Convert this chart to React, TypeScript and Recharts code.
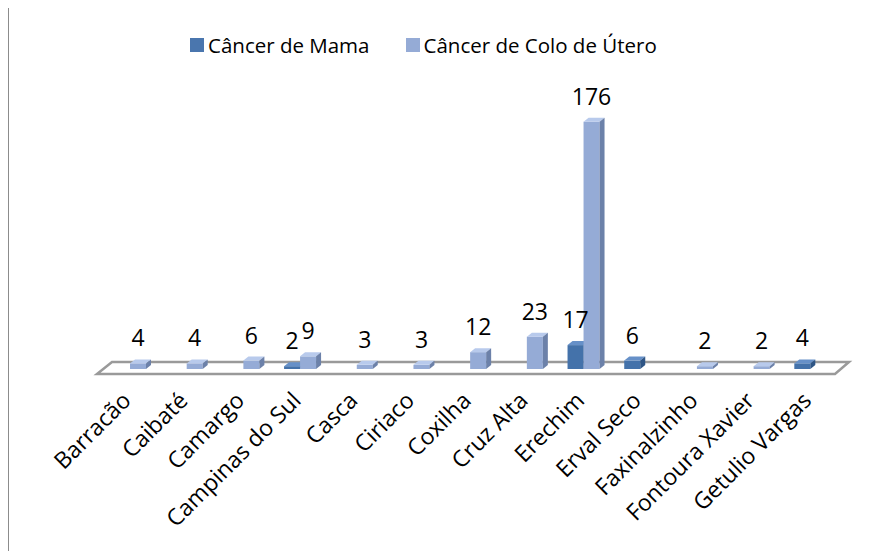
import React from "react";
import { BarChart, Bar, XAxis, YAxis, Legend, LabelList, ReferenceArea } from "recharts";

const cities = [
  "Barracão",
  "Caibaté",
  "Camargo",
  "Campinas do Sul",
  "Casca",
  "Ciriaco",
  "Coxilha",
  "Cruz Alta",
  "Erechim",
  "Erval Seco",
  "Faxinalzinho",
  "Fontoura Xavier",
  "Getulio Vargas",
];
const mama = [null, null, null, 2, null, null, null, null, 17, 6, null, null, 4];
const colo = [4, 4, 6, 9, 3, 3, 12, 23, 176, null, 2, 2, null];

const data = cities.map((city, i) => ({ city, mama: mama[i], colo: colo[i] }));

const FONT = "'Open Sans', Lato, sans-serif";

const palettes = {
  mama: { front: "#4472AA", top: "#6690C8", side: "#2E5585" },
  colo: { front: "#95ABD6", top: "#B8CAEC", side: "#6C81A9" },
};

function Bar3D(props: any) {
  const { x, y, width, height, palette } = props;
  if (x == null || y == null || !width || height == null || height < 0) return null;
  const dx = 5;
  const dy = 4;
  const h = Math.max(height, 1);
  const top = y + height - h;
  return (
    <g>
      <rect x={x} y={top} width={width} height={h} fill={palette.front} />
      <polygon
        points={`${x},${top} ${x + dx},${top - dy} ${x + width + dx},${top - dy} ${x + width},${top}`}
        fill={palette.top}
      />
      <polygon
        points={`${x + width},${top} ${x + width + dx},${top - dy} ${x + width + dx},${top + h - dy} ${x + width},${top + h}`}
        fill={palette.side}
      />
    </g>
  );
}

function Floor(props: any) {
  const { x, y, width, height } = props;
  const b = y + height;
  const pts = `${x - 5},${b + 5} ${x + width - 4},${b + 5} ${x + width + 10},${b - 7} ${x + 10},${b - 7}`;
  return <polygon points={pts} fill="none" stroke="#9a9a9a" strokeWidth={2.5} strokeLinejoin="miter" />;
}

function CityTick(props: any) {
  const { x, y, payload } = props;
  const ax = x + 2;
  const ay = y + 25;
  return (
    <text x={ax} y={ay} transform={`rotate(-45, ${ax}, ${ay})`} textAnchor="end" fontSize={23} fontFamily={FONT} fill="#000">
      {payload.value}
    </text>
  );
}

function LegendBox() {
  const item = (color: string, label: string, gap: number) => (
    <div style={{ display: "flex", alignItems: "center", marginRight: gap }}>
      <div style={{ width: 14, height: 14, background: color, marginRight: 4 }} />
      <span style={{ fontSize: 20.5, fontFamily: FONT, color: "#000", lineHeight: "24px" }}>{label}</span>
    </div>
  );
  return (
    <div style={{ display: "flex", paddingLeft: 190, height: 24 }}>
      {item("#4A76AE", "Câncer de Mama", 36)}
      {item("#95ABD6", "Câncer de Colo de Útero", 0)}
    </div>
  );
}

export default function App() {
  return (
    <div style={{ position: "relative", width: 891, height: 559, margin: -8, overflow: "hidden", background: "#fff" }}>
      <div
        style={{
          position: "absolute",
          left: 7,
          top: 5,
          width: 1000,
          height: 1000,
          borderLeft: "2px solid #8c8c8c",
          borderTop: "2px solid #8c8c8c",
        }}
      />
      <div style={{ position: "absolute", left: 0, top: 0 }}>
        <BarChart
          width={891}
          height={559}
          data={data}
          margin={{ top: 64, right: 52, left: 102, bottom: 0 }}
          barGap={0}
          barSize={16}
        >
          <ReferenceArea y1={0} y2={5} ifOverflow="visible" shape={(p: any) => <Floor {...p} />} />
          <XAxis dataKey="city" axisLine={false} tickLine={false} height={190} interval={0} tick={<CityTick />} />
          <YAxis hide domain={[0, 200]} />
          <Legend verticalAlign="top" wrapperStyle={{ left: 0, width: 891, top: 33 }} content={() => <LegendBox />} />
          <Bar dataKey="mama" isAnimationActive={false} shape={(p: any) => <Bar3D {...p} palette={palettes.mama} />}>
            <LabelList dataKey="mama" position="top" offset={17} fontSize={23} fontFamily={FONT} fill="#000" />
          </Bar>
          <Bar dataKey="colo" isAnimationActive={false} shape={(p: any) => <Bar3D {...p} palette={palettes.colo} />}>
            <LabelList dataKey="colo" position="top" offset={17} fontSize={23} fontFamily={FONT} fill="#000" />
          </Bar>
        </BarChart>
      </div>
    </div>
  );
}
